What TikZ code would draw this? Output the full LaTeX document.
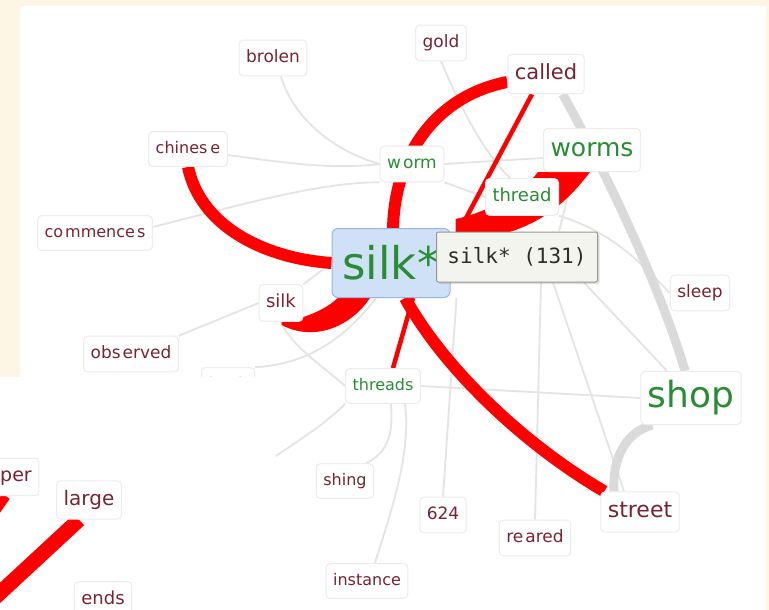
\documentclass[tikz,border=0pt]{standalone}
\usepackage{fontspec}
\setmainfont{DejaVu Sans}
\newfontfamily\monof{DejaVu Sans Mono}
\usetikzlibrary{calc,shadows}
\pgfdeclarelayer{back}
\pgfdeclarelayer{edges}
\pgfdeclarelayer{over}
\pgfdeclarelayer{top}
\pgfsetlayers{back,edges,main,over,top}
\definecolor{cream}{RGB}{253,246,228}
\definecolor{wordred}{RGB}{118,36,52}
\definecolor{wordgreen}{RGB}{42,140,52}
\definecolor{boxline}{RGB}{236,236,236}
\definecolor{ltgray}{RGB}{228,228,228}
\definecolor{midgray}{RGB}{218,218,218}
\definecolor{linkred}{RGB}{255,0,0}
\definecolor{selfill}{RGB}{206,225,247}
\definecolor{selline}{RGB}{150,182,226}
\definecolor{tipfill}{RGB}{244,244,238}
\definecolor{tipline}{RGB}{150,150,150}
\definecolor{tiptext}{RGB}{45,45,45}
\tikzset{
  word/.style={draw=boxline, line width=1pt, fill=white, rounded corners=4pt,
    inner xsep=7pt, inner ysep=10pt, text=wordred,
    font=\fontsize{#1}{#1}\selectfont, text height={0.72*#1pt}, text depth={0.2*#1pt}},
  word/.default=16,
  gword/.style={word=#1, text=wordgreen},
  gword/.default=16,
  gline/.style={draw=ltgray, line width=1.8pt},
  gthick/.style={draw=midgray, line width=9pt},
  rline/.style={draw=linkred, line width=#1},
}
\begin{document}
\begin{tikzpicture}[x=1pt,y=-1pt]
\useasboundingbox (0,0) rectangle (769,610);
\begin{pgfonlayer}{back}
\fill[cream] (0,0) rectangle (769,610);
\fill[white] (20,6) rectangle (766,610);
\end{pgfonlayer}

% nodes
\node[word=17] (brolen) at (273,58) {brolen};
\node[word=17] (gold) at (441,43) {gold};
\node[word=21] (called) at (546,74) {called};
\node[word=16] (chinese) at (188,149) {chines\kern3pt e};
\node[gword=17] (worm) at (412,164) {w\kern2pt orm};
\node[gword=25] (worms) at (592,150) {worms};
\node[gword=18] (thread) at (522,197) {thread};
\node[word=16] (commences) at (95,233) {co\kern2pt mmence\kern2pt s};
\node[word=17] (sleep) at (700,293) {sleep};
\node[word=18] (silk) at (281,303) {silk};
\node[word=17] (observed) at (131,354) {obs\kern2pt erved};
\node[word=16] (book) at (228,385) {book};
\node[gword=16] (threads) at (383,386) {threads};
\node[gword=36] (shop) at (691,398) {shop};
\node[word=16] (shing) at (345,481) {shing};
\node[word=17] (n624) at (443,515) {624};
\node[word=17] (reared) at (535,538) {re\kern2pt ared};
\node[word=16] (instance) at (367,581) {instance};
\node[word=22] (street) at (640,512) {street};
\node[draw=selline, fill=selfill, line width=1pt, rounded corners=6pt,
  minimum width=118pt, minimum height=69pt, inner sep=0pt, text=wordgreen,
  font=\fontsize{45}{45}\selectfont] (main) at (391,263) {silk*};
\node[draw=tipline, fill=tipfill, line width=1pt, rounded corners=2pt,
  minimum width=161pt, minimum height=50pt, inner sep=0pt, text=tiptext,
  font=\monof\fontsize{21}{21}\selectfont,
  drop shadow={shadow xshift=2pt, shadow yshift=-2pt, opacity=0.25}] (tip) at (517,257) {silk* (131)};
\coordinate (offl) at (255,470);

\begin{pgfonlayer}{top}
\node[word=19] (per) at (16,477) {per};
\node[word=20] (large) at (89,500) {large};
\node[word=18] (ends) at (103,600) {ends};
\end{pgfonlayer}
\coordinate (llend) at (-12,604);
\coordinate (perend) at (-12,522);

\begin{pgfonlayer}{edges}
% light gray links
\draw[gline] ([xshift=8]brolen.south) .. controls (292,115) and (330,150) .. (worm.west);
\draw[gline] (gold.south) .. controls (462,110) and (482,150) .. ([xshift=-12]thread.north);
\draw[gline] ([yshift=-6]chinese.east) .. controls (280,162) and (330,170) .. (worm.west);
\draw[gline] ([yshift=6]commences.east) .. controls (240,205) and (320,182) .. (worm.south west);
\draw[gline] (worm.east) -- ([yshift=-8]worms.west);
\draw[gline] (worm.south east) -- (thread.west);
\draw[gline] (silk.north east) -- (main.west);
\draw[gline] (silk.west) -- (observed.north east);
\draw[gline] (book.north east) .. controls (300,365) and (340,345) .. ([xshift=-15]main.south);
\draw[gline] (silk.south) .. controls (290,345) and (325,368) .. (threads.west);
\draw[gline] (threads.south west) .. controls (330,420) and (300,440) .. (offl);
\draw[gline] ([xshift=8]threads.south) .. controls (393,430) and (390,452) .. ([xshift=-8]shing.north east);
\draw[gline] ([xshift=22]threads.south) .. controls (412,455) and (388,520) .. ([xshift=8]instance.north);
\draw[gline] (threads.east) -- (shop.west);
\draw[gline] (n624.north) -- ([xshift=6]main.south east);
\draw[gline] (reared.north) -- ([xshift=24]tip.south);
\draw[gline] ([xshift=36]tip.south) -- ([xshift=-16]street.north);
\draw[gline] ([xshift=-14]tip.south east) -- ([xshift=-24]shop.north);
\draw[gline] (thread.south east) .. controls (612,232) and (640,262) .. (sleep.west);
\draw[gline] ([xshift=-18]worms.south) -- ([xshift=42]tip.north);
\draw[gthick] ([xshift=-22]called.south east) .. controls (602,165) and (660,285) .. ([xshift=-6]shop.north);
\draw[gthick] ([xshift=12]shop.south west) .. controls (626,432) and (612,458) .. ([xshift=-26]street.north);
% red links
\draw[rline=12pt] (chinese.south) .. controls (200,225) and (262,258) .. (main.west);
\draw[rline=12pt] ([xshift=2]main.north) .. controls (395,150) and (440,95) .. ([yshift=-8]called.west);
\draw[rline=4.5pt] ([xshift=-14]called.south) -- ([xshift=6,yshift=-8]main.north east);
\fill[linkred] ($(main.north east)+(5,-9)$) .. controls (490,212) and (525,190) .. ($(worms.south)+(-54,0)$)
  -- ($(worms.south)+(-2,0)$) .. controls (565,205) and (530,238) .. ($(main.north east)+(5,13)$) -- cycle;
\fill[linkred] ($(main.south west)+(-50,24)$) .. controls (310,318) and (335,305) .. ($(main.south west)+(13,-8)$)
  -- ($(main.south west)+(43,-8)$) .. controls (360,320) and (320,345) .. ($(main.south west)+(-50,27)$) -- cycle;
\draw[rline=4.5pt] ([xshift=22]main.south) -- ([xshift=10]threads.north);
\draw[rline=12pt] ([xshift=14]main.south) .. controls (445,370) and (525,445) .. ([xshift=4]street.north west);
\end{pgfonlayer}

\begin{pgfonlayer}{over}
\fill[white] (0,377) rectangle (276,612);
\draw[rline=15pt] ([xshift=-10]large.south) -- (llend);
\draw[rline=9pt] ([xshift=-10]per.south) -- (perend);
\end{pgfonlayer}
\end{tikzpicture}
\end{document}
